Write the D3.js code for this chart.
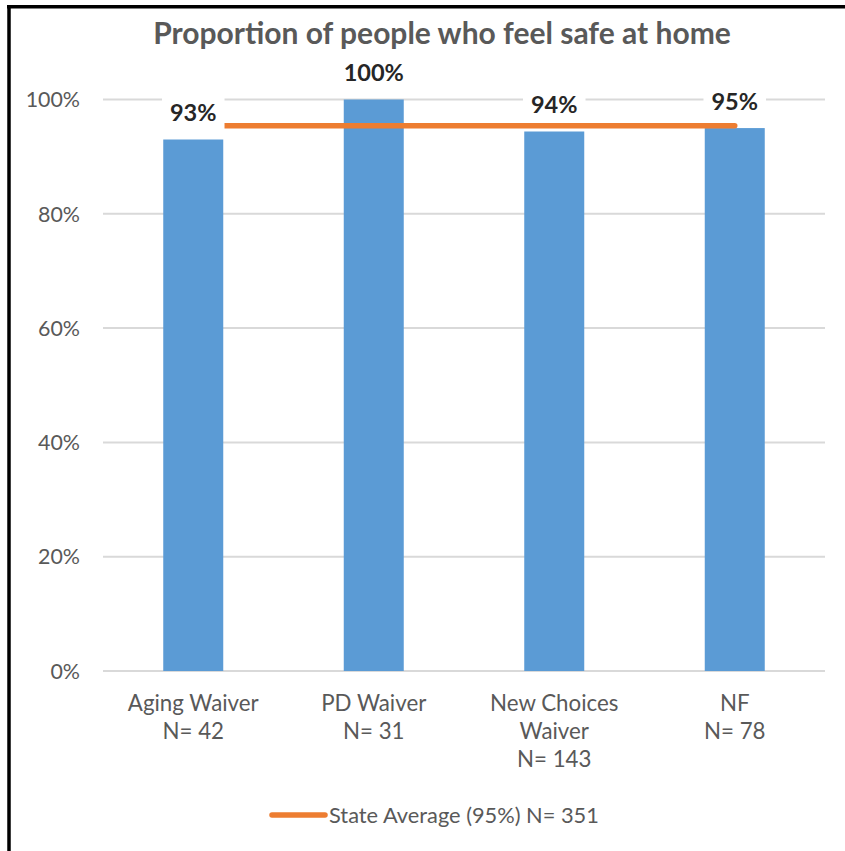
<!DOCTYPE html>
<html>
<head>
<meta charset="utf-8">
<script src="https://cdn.jsdelivr.net/npm/d3@7"></script>
<style>
  html, body { margin: 0; padding: 0; background: #fff; }
  svg { display: block; }
  text { font-family: Lato, "Open Sans", sans-serif; }
</style>
</head>
<body>
<script>
// ---- data ----
const title = "Proportion of people who feel safe at home";
const categories = ["Aging Waiver", "PD Waiver", "New Choices Waiver", "NF"];
const categoryLines = [["Aging Waiver", "N= 42"], ["PD Waiver", "N= 31"], ["New Choices", "Waiver", "N= 143"], ["NF", "N= 78"]];
const values = [0.93, 1.00, 0.944, 0.95];
const valueLabels = ["93%", "100%", "94%", "95%"];
const stateAverage = 0.954;
const legendLabel = "State Average (95%) N= 351";
const yTicks = [0, 0.2, 0.4, 0.6, 0.8, 1.0];
const yTickLabels = ["0%", "20%", "40%", "60%", "80%", "100%"];

// ---- layout ----
const W = 845, H = 851;
const svg = d3.select("body").append("svg").attr("width", W).attr("height", H);

svg.append("rect").attr("width", W).attr("height", H).attr("fill", "#fff");
// frame (left and top edges)
svg.append("line").attr("x1", 9).attr("x2", 9).attr("y1", 5).attr("y2", H).attr("stroke", "#000").attr("stroke-width", 3.5);
svg.append("line").attr("x1", 7).attr("x2", W).attr("y1", 6.7).attr("y2", 6.7).attr("stroke", "#000").attr("stroke-width", 3.5);

const x = d3.scaleBand().domain(categories).range([103, 825]).paddingInner(0.6676).paddingOuter(0.3338);
const y = d3.scaleLinear().domain([0, 1]).range([671, 99.5]);

const textColor = "#595959";

// title
svg.append("text").attr("x", 442).attr("y", 44.3).attr("text-anchor", "middle")
  .attr("fill", textColor).attr("font-weight", "bold").attr("font-size", 30).text(title);

// gridlines
svg.append("g").selectAll("line").data(yTicks).join("line")
  .attr("x1", 103).attr("x2", 825)
  .attr("y1", d => y(d)).attr("y2", d => y(d))
  .attr("stroke", "#d9d9d9").attr("stroke-width", 2);

// y tick labels
svg.append("g").selectAll("text").data(yTicks).join("text")
  .attr("x", 80).attr("y", d => y(d) + 7.7).attr("text-anchor", "end")
  .attr("fill", textColor).attr("font-size", 21.4).text((d, i) => yTickLabels[i]);

// bars
svg.append("g").selectAll("rect").data(values).join("rect")
  .attr("x", (d, i) => x(categories[i])).attr("width", x.bandwidth())
  .attr("y", d => y(d)).attr("height", d => y(0) - y(d))
  .attr("fill", "#5b9bd5");

// state average line
const cx = c => x(c) + x.bandwidth() / 2;
svg.append("path")
  .attr("d", d3.line()([[cx(categories[0]), y(stateAverage)], [cx(categories[categories.length - 1]), y(stateAverage)]]))
  .attr("stroke", "#ed7d31").attr("stroke-width", 5.5).attr("stroke-linecap", "round").attr("fill", "none");

// value labels with white boxes
const lg = svg.append("g");
values.forEach((v, i) => {
  const t = lg.append("text").attr("x", cx(categories[i])).attr("y", y(v) - 18.5)
    .attr("text-anchor", "middle").attr("font-weight", "bold").attr("font-size", 23.5)
    .attr("fill", "#262626").text(valueLabels[i]);
  const bb = t.node().getBBox();
  lg.insert("rect", "text").attr("x", bb.x - 8).attr("y", bb.y - 2).attr("width", bb.width + 16).attr("height", bb.height + 5).attr("fill", "#fff");
});
lg.selectAll("text").raise();

// category labels
categoryLines.forEach((lines, i) => {
  const t = svg.append("text").attr("text-anchor", "middle").attr("fill", textColor).attr("font-size", 22.3);
  lines.forEach((ln, j) => {
    t.append("tspan").attr("x", cx(categories[i])).attr("y", 711 + j * 28).text(ln);
  });
});

// legend
svg.append("line").attr("x1", 272).attr("x2", 325).attr("y1", 815).attr("y2", 815)
  .attr("stroke", "#ed7d31").attr("stroke-width", 5.5).attr("stroke-linecap", "round");
svg.append("text").attr("x", 329).attr("y", 823).attr("fill", textColor).attr("font-size", 21.8).text(legendLabel);
</script>
</body>
</html>
